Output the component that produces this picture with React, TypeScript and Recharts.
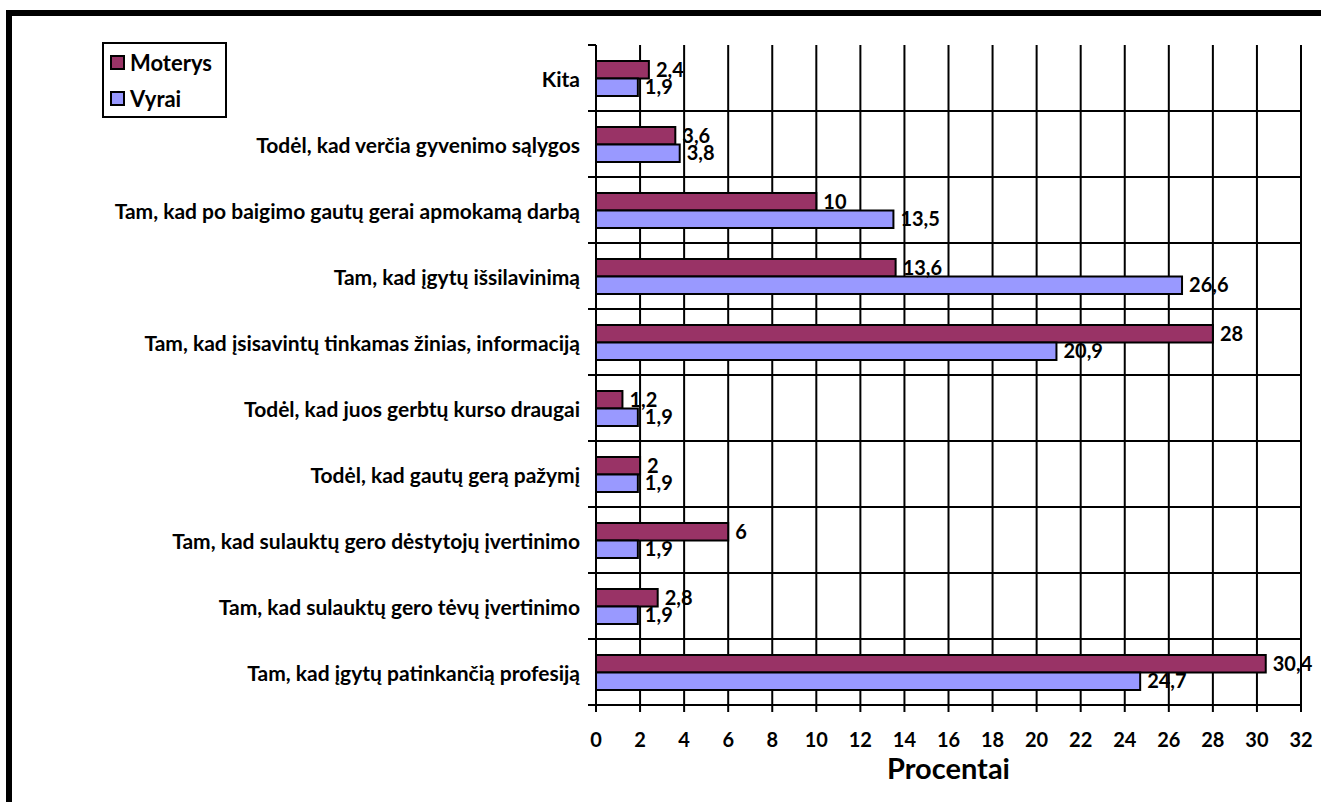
import {
  Bar,
  BarChart,
  CartesianGrid,
  LabelList,
  XAxis,
  YAxis,
} from "recharts";

const categories = [
  "Kita",
  "Todėl, kad verčia gyvenimo sąlygos",
  "Tam, kad po baigimo gautų gerai apmokamą darbą",
  "Tam, kad įgytų išsilavinimą",
  "Tam, kad įsisavintų tinkamas žinias, informaciją",
  "Todėl, kad juos gerbtų kurso draugai",
  "Todėl, kad gautų gerą pažymį",
  "Tam, kad sulauktų gero dėstytojų įvertinimo",
  "Tam, kad sulauktų gero tėvų įvertinimo",
  "Tam, kad įgytų patinkančią profesiją",
];
const moterys = [2.4, 3.6, 10, 13.6, 28, 1.2, 2, 6, 2.8, 30.4];
const vyrai = [1.9, 3.8, 13.5, 26.6, 20.9, 1.9, 1.9, 1.9, 1.9, 24.7];
const xTicks = [0, 2, 4, 6, 8, 10, 12, 14, 16, 18, 20, 22, 24, 26, 28, 30, 32];
const seriesNames = ["Moterys", "Vyrai"];

const MAROON = "#993366";
const LILAC = "#9999ff";
const FONT = "Lato, 'Open Sans', sans-serif";

const data = categories.map((name, i) => ({
  name,
  m: moterys[i],
  v: vyrai[i],
}));

const fmt = (v: any) => String(v).replace(".", ",");

const TICK_SIZE = 8;
const TICK_MARGIN = 8;

// category label + the small tick marks on the category boundaries
function CatTick(props: any) {
  const { x, y, payload } = props;
  const axisX = x + TICK_SIZE + TICK_MARGIN;
  const half = payload.offset || 0;
  return (
    <g>
      <line x1={axisX - TICK_SIZE} x2={axisX} y1={y - half} y2={y - half} stroke="#000" strokeWidth={2} />
      <line x1={axisX - TICK_SIZE} x2={axisX} y1={y + half} y2={y + half} stroke="#000" strokeWidth={2} />
      <text
        x={x}
        y={y}
        textAnchor="end"
        dominantBaseline="central"
        fontFamily={FONT}
        fontWeight={700}
        fontSize={21}
        fill="#000"
      >
        {payload.value}
      </text>
    </g>
  );
}

function LegendBox() {
  const colors = [MAROON, LILAC];
  return (
    <div
      style={{
        position: "absolute",
        left: 102,
        top: 42,
        width: 121,
        height: 72,
        border: "2px solid #000",
        background: "#fff",
        fontFamily: FONT,
        fontWeight: 700,
        fontSize: 22,
        boxSizing: "content-box",
      }}
    >
      {seriesNames.map((label, i) => (
        <div
          key={label}
          style={{
            display: "flex",
            alignItems: "center",
            height: 36,
            paddingLeft: 6,
          }}
        >
          <span
            style={{
              display: "inline-block",
              width: 11,
              height: 11,
              background: colors[i],
              border: "2px solid #000",
              marginRight: 5,
            }}
          />
          <span>{label}</span>
        </div>
      ))}
    </div>
  );
}

export default function App() {
  return (
    <div
      style={{
        position: "absolute",
        left: 0,
        top: 0,
        width: 1321,
        height: 802,
        background: "#fff",
        overflow: "hidden",
      }}
    >
      {/* picture frame */}
      <div style={{ position: "absolute", left: 6, top: 10, width: 1315, height: 6, background: "#000" }} />
      <div style={{ position: "absolute", left: 6, top: 10, width: 6, height: 792, background: "#000" }} />
      <div style={{ position: "absolute", left: 0, top: 0 }}>
        <BarChart
          width={1321}
          height={802}
          data={data}
          layout="vertical"
          margin={{ top: 45, right: 20, bottom: 27, left: 0 }}
          barGap={0}
          barSize={17.5}
        >
          <CartesianGrid
            stroke="#000"
            strokeWidth={2}
            horizontalCoordinatesGenerator={({ offset }: any) =>
              categories.slice(1).map((_, i) => offset.top + ((i + 1) * offset.height) / categories.length)
            }
          />
          <XAxis
            type="number"
            domain={[0, 32]}
            ticks={xTicks}
            interval={0}
            height={70}
            stroke="#000"
            strokeWidth={2}
            tickSize={7}
            tickMargin={21}
            tick={{ fill: "#000", fontFamily: FONT, fontWeight: 700, fontSize: 20 }}
            label={{
              value: "Procentai",
              position: "insideBottom",
              offset: -4,
              style: { fill: "#000", fontFamily: FONT, fontWeight: 700, fontSize: 29 },
            }}
          />
          <XAxis
            xAxisId="top"
            orientation="top"
            type="number"
            domain={[0, 32]}
            height={0}
            tick={false}
            tickLine={false}
            stroke="#808080"
            strokeWidth={2}
          />
          <YAxis
            type="category"
            dataKey="name"
            width={596}
            stroke="#000"
            strokeWidth={2}
            tickLine={false}
            tickSize={TICK_SIZE}
            tickMargin={TICK_MARGIN}
            interval={0}
            tick={<CatTick />}
          />
          <YAxis
            yAxisId="right"
            orientation="right"
            type="category"
            dataKey="name"
            width={0}
            tick={false}
            tickLine={false}
            stroke="#808080"
            strokeWidth={2}
          />
          <Bar dataKey="m" name={seriesNames[0]} fill={MAROON} stroke="#000" strokeWidth={2} isAnimationActive={false}>
            <LabelList
              dataKey="m"
              position="right"
              offset={7}
              formatter={fmt}
              style={{ fill: "#000", fontFamily: FONT, fontWeight: 700, fontSize: 20 }}
            />
          </Bar>
          <Bar dataKey="v" name={seriesNames[1]} fill={LILAC} stroke="#000" strokeWidth={2} isAnimationActive={false}>
            <LabelList
              dataKey="v"
              position="right"
              offset={7}
              formatter={fmt}
              style={{ fill: "#000", fontFamily: FONT, fontWeight: 700, fontSize: 20 }}
            />
          </Bar>
        </BarChart>
      </div>
      <LegendBox />
    </div>
  );
}
